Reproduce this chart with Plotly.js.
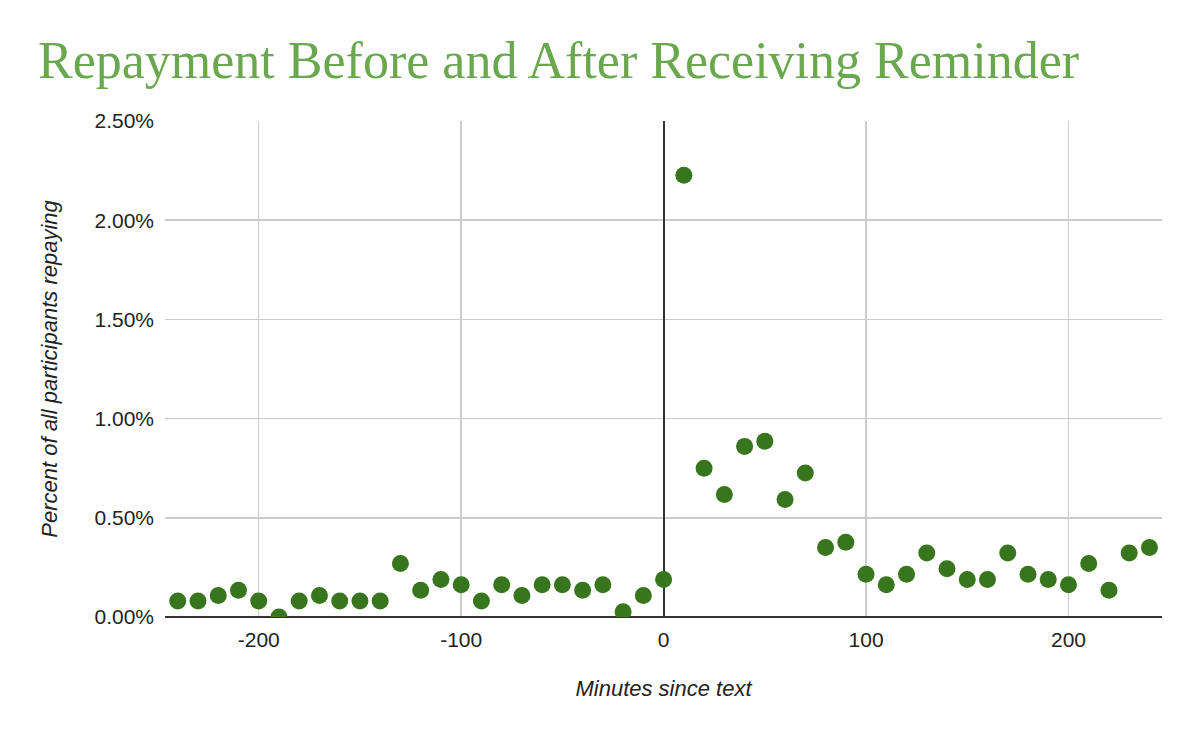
<!DOCTYPE html>
<html>
<head>
<meta charset="utf-8">
<script src="https://cdn.plot.ly/plotly-3.0.1.min.js"></script>
<style>html,body{margin:0;padding:0;background:#fff;}#chart{width:1200px;height:742px;}</style>
</head>
<body>
<div id="chart"></div>
<script>
const minutes = [-240,-230,-220,-210,-200,-190,-180,-170,-160,-150,-140,-130,-120,-110,-100,-90,-80,-70,-60,-50,-40,-30,-20,-10,0,
  10,20,30,40,50,60,70,80,90,100,110,120,130,140,150,160,170,180,190,200,210,220,230,240];
const percentRepaying = [0.081,0.081,0.108,0.135,0.081,0.0,0.081,0.108,0.081,0.081,0.081,0.270,0.135,0.189,0.162,0.081,0.162,0.108,0.162,0.162,0.135,0.162,0.027,0.108,0.189,
  2.227,0.750,0.618,0.860,0.886,0.592,0.726,0.350,0.377,0.216,0.162,0.216,0.323,0.243,0.189,0.189,0.323,0.216,0.189,0.162,0.270,0.135,0.323,0.350];
const yTickVals = [0,0.5,1.0,1.5,2.0,2.5];
const yTickText = ["0.00%","0.50%","1.00%","1.50%","2.00%","2.50%"];
const xTickVals = [-200,-100,0,100,200];

const trace = {
  x: minutes,
  y: percentRepaying,
  type: 'scatter',
  mode: 'markers',
  marker: {color: '#38761d', size: 17},
  cliponaxis: true,
  hoverinfo: 'x+y'
};

const axFont = {family: 'Liberation Sans, Arial, sans-serif', size: 21, color: '#222'};
const titleFont = {family: 'Liberation Sans, Arial, sans-serif', size: 22, color: '#222'};

const layout = {
  width: 1200, height: 742,
  margin: {l: 165, r: 38, t: 121, b: 125},
  paper_bgcolor: '#fff', plot_bgcolor: '#fff',
  showlegend: false,
  title: {
    text: 'Repayment Before and After Receiving Reminder',
    font: {family: 'Liberation Serif, serif', size: 52, color: '#6aa84f'},
    x: 38/1200, xanchor: 'left', xref: 'container',
    y: 1 - 60/742, yanchor: 'middle', yref: 'container'
  },
  xaxis: {
    range: [-246.3, 246.2],
    tickvals: xTickVals,
    ticktext: xTickVals.map(String),
    showgrid: true, gridcolor: '#cccccc', gridwidth: 1.5,
    zeroline: true, zerolinecolor: '#333333', zerolinewidth: 2,
    showline: false, ticks: '', ticklabelstandoff: 8,
    tickfont: axFont,
    title: {text: '<i>Minutes since text</i>', font: titleFont, standoff: 30},
    fixedrange: true
  },
  yaxis: {
    range: [0, 2.5],
    tickvals: yTickVals,
    ticktext: yTickText,
    showgrid: true, gridcolor: '#cccccc', gridwidth: 1.5,
    zeroline: true, zerolinecolor: '#333333', zerolinewidth: 2,
    showline: false, ticks: '', ticklabelstandoff: 10,
    tickfont: axFont,
    title: {text: '<i>Percent of all participants repaying</i>', font: titleFont, standoff: 30},
    fixedrange: true
  }
};

Plotly.newPlot('chart', [trace], layout, {displayModeBar: false, staticPlot: true});
</script>
</body>
</html>
